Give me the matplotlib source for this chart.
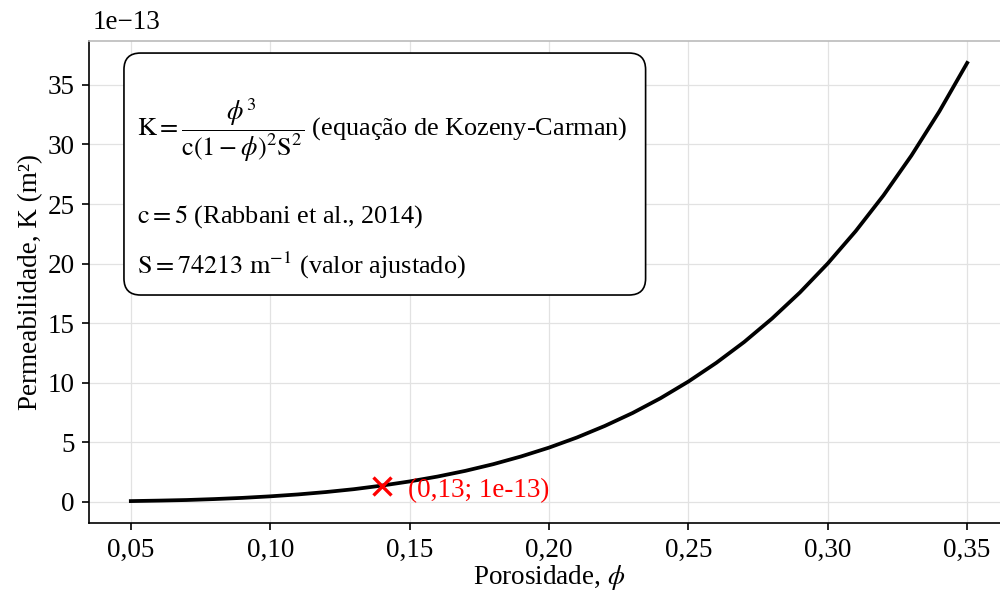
import numpy as np
import matplotlib
matplotlib.use("Agg")
import matplotlib.pyplot as plt
from matplotlib.ticker import FuncFormatter
from matplotlib.patches import FancyBboxPatch

plt.rcParams['font.family'] = ['Liberation Serif', 'DejaVu Serif']
plt.rcParams['mathtext.fontset'] = 'stix'

# porosidade vs permeabilidade (K em unidades de 1e-13 m2)
phi = [0.05, 0.06, 0.07, 0.08, 0.09, 0.10, 0.11, 0.12, 0.13, 0.14, 0.15,
       0.16, 0.17, 0.18, 0.19, 0.20, 0.21, 0.22, 0.23, 0.24, 0.25,
       0.26, 0.27, 0.28, 0.29, 0.30, 0.31, 0.32, 0.33, 0.34, 0.35]
K = [0.05, 0.09, 0.14, 0.22, 0.32, 0.45, 0.61, 0.81, 1.05, 1.35, 1.70,
     2.11, 2.59, 3.15, 3.80, 4.54, 5.39, 6.36, 7.45, 8.69, 10.09,
     11.66, 13.41, 15.38, 17.57, 20.01, 22.72, 25.73, 29.07, 32.77, 36.85]

ponto_x = 0.14
ponto_y = 1.35
ponto_label = "(0,13; 1e-13)"

fs = 13

fig = plt.figure(figsize=(1001/150, 594/150), dpi=150)
ax = fig.add_axes([89/1001, 71/594, 920/1001, 482/594])

ax.plot(phi, K, color="black", lw=1.8)
ax.plot([ponto_x], [ponto_y], "x", color="red", ms=9, mew=1.6)
ax.text(ponto_x + 0.0095, ponto_y - 0.45, ponto_label, color="red", fontsize=fs, va="center")

ax.grid(True, color="#e2e2e2", lw=0.6)
ax.set_axisbelow(True)
ax.spines['top'].set_color("#bbbbbb")
ax.spines['right'].set_color("#bbbbbb")
ax.tick_params(labelsize=fs)
ax.xaxis.set_major_formatter(FuncFormatter(lambda v, p: ("%.2f" % v).replace(".", ",")))
ax.set_xticks([0.05, 0.10, 0.15, 0.20, 0.25, 0.30, 0.35])
ax.set_yticks(range(0, 36, 5))
ax.text(0.004, 1.012, "1e\u221213", transform=ax.transAxes, fontsize=fs, ha="left", va="bottom")

ax.set_xlabel(r"Porosidade, $\phi$", fontsize=fs, labelpad=0)
ax.set_ylabel("Permeabilidade, K (m²)", fontsize=fs, labelpad=2)

# caixa com a equacao
box = FancyBboxPatch((0.038, 0.473), 0.567, 0.502, transform=ax.transAxes,
                     boxstyle="round,pad=0,rounding_size=0.018",
                     facecolor="white", edgecolor="black", lw=0.8, zorder=5,
                     mutation_aspect=920/482)
ax.add_patch(box)
linhas = [
    (0.815, r"$\mathrm{K} = \dfrac{\phi^{3}}{\mathrm{c}(1-\phi)^{2}\mathrm{S}^{2}}$ (equação de Kozeny-Carman)"),
    (0.635, r"$\mathrm{c} = 5$ (Rabbani et al., 2014)"),
    (0.535, r"$\mathrm{S} = 74213\ \mathrm{m}^{-1}$ (valor ajustado)"),
]
for yy, s in linhas:
    ax.text(0.052, yy, s, transform=ax.transAxes, fontsize=12.6, va="center", ha="left", zorder=6)

fig.savefig("out.png", dpi=150)
